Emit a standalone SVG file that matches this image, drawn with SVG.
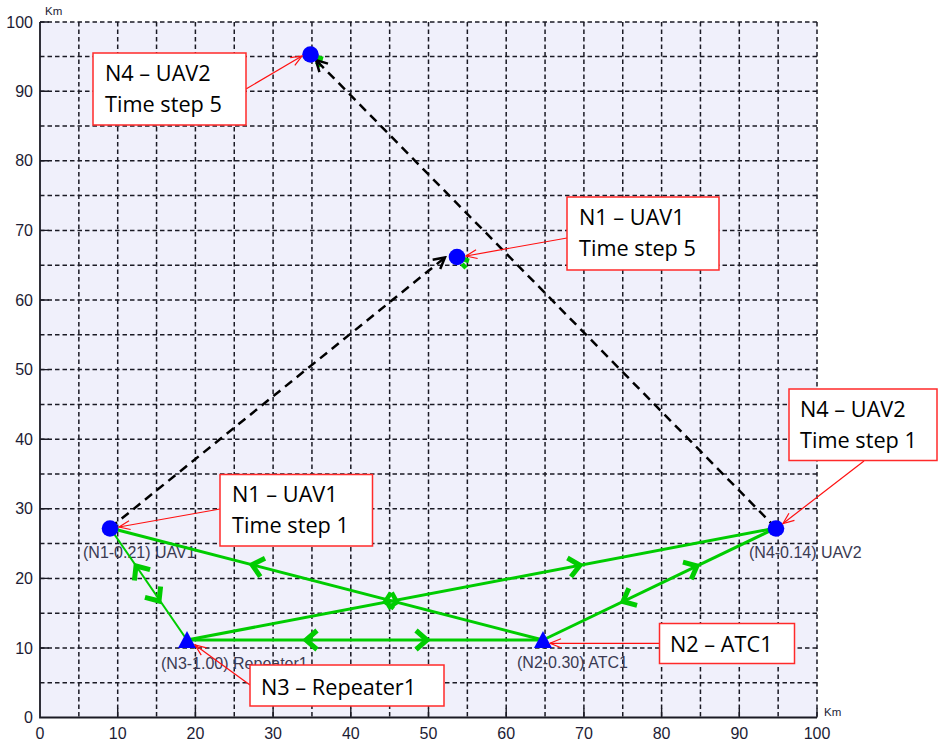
<svg xmlns="http://www.w3.org/2000/svg" xmlns:xlink="http://www.w3.org/1999/xlink" width="939" height="744" viewBox="0 0 939 744">
  <style>
    .grid { stroke: #1a1a24; stroke-width: 1.5; stroke-dasharray: 4.5 3; fill: none; }
    .axis { stroke: #1a1a24; stroke-width: 1.8; fill: none; }
    .tick { stroke: #1a1a24; stroke-width: 1.4; fill: none; }
    .tl { font-family: "Liberation Sans", Arial, sans-serif; font-size: 16px; fill: #1c1c34; }
    .km { font-family: "Liberation Sans", Arial, sans-serif; font-size: 11.5px; fill: #1c1c34; }
    .nl { font-family: "Liberation Sans", Arial, sans-serif; font-size: 16px; fill: #3a3a52; }
    .link { stroke: #00cc00; stroke-width: 3; fill: none; }
    .link-thin { stroke: #00cc00; stroke-width: 2; fill: none; }
    .gh { stroke: #00cc00; stroke-width: 5; fill: none; stroke-linejoin: miter; }
    .ghs { stroke: #00cc00; stroke-width: 4.5; fill: none; }
    .move { stroke: #000; stroke-width: 2.5; stroke-dasharray: 9 6; fill: none; }
    .node { fill: #0000ff; }
    .box { fill: #fff; stroke: #ff2a2a; stroke-width: 1.5; }
    .bt { font-family: "Open Sans", "Liberation Sans", sans-serif; font-size: 21.7px; fill: #000; }
    .call { stroke: #ff1010; stroke-width: 1.2; fill: none; }
  </style>
  <defs>
    <path id="ah" d="M-11,-9.5 L0,0 L-11,9.5" class="gh"/>
    <path id="ahs" d="M-7.5,-8 L0,0 L-7.5,8" class="ghs"/>
    <marker id="blk" viewBox="-14 -9 16 18" refX="0" refY="0" markerWidth="16" markerHeight="18" markerUnits="userSpaceOnUse" orient="auto">
      <path d="M-11,-6 L0,0 L-11,6" fill="none" stroke="#000" stroke-width="2.5"/>
    </marker>
    <marker id="red" viewBox="-13 -6 15 12" refX="0" refY="0" markerWidth="15" markerHeight="12" markerUnits="userSpaceOnUse" orient="auto">
      <path d="M-11,-4.5 L0,0 L-11,4.5" fill="none" stroke="#ff1010" stroke-width="1.2"/>
    </marker>
  </defs>

  <rect x="0" y="0" width="939" height="744" fill="#ffffff"/>

  <!-- plot area -->
  <g id="plot">
    <rect x="40" y="22" width="777" height="695.5" fill="#f0f0fb"/>
    <!-- dashed grid every 5 km -->
    <path class="grid" d="M78.85,22V717.5 M117.7,22V717.5 M156.55,22V717.5 M195.4,22V717.5 M234.25,22V717.5 M273.1,22V717.5 M311.95,22V717.5 M350.8,22V717.5 M389.65,22V717.5 M428.5,22V717.5 M467.35,22V717.5 M506.2,22V717.5 M545.05,22V717.5 M583.9,22V717.5 M622.75,22V717.5 M661.6,22V717.5 M700.45,22V717.5 M739.3,22V717.5 M778.15,22V717.5 M817,22V717.5"/>
    <path class="grid" d="M40,682.7H817 M40,648H817 M40,613.2H817 M40,578.4H817 M40,543.6H817 M40,508.8H817 M40,474H817 M40,439.2H817 M40,404.4H817 M40,369.6H817 M40,334.8H817 M40,300H817 M40,265.2H817 M40,230.4H817 M40,195.6H817 M40,160.8H817 M40,126H817 M40,91.2H817 M40,56.4H817 M40,22H817"/>
    <!-- solid axes -->
    <path class="axis" d="M40,22V717.5H817"/>
    <!-- ticks every 10 km -->
    <path class="tick" d="M117.7,717.5v-9 M195.4,717.5v-9 M273.1,717.5v-9 M350.8,717.5v-9 M428.5,717.5v-9 M506.2,717.5v-9 M583.9,717.5v-9 M661.6,717.5v-9 M739.3,717.5v-9 M817,717.5v-9"/>
    <path class="tick" d="M40,648h9 M40,578.4h9 M40,508.8h9 M40,439.2h9 M40,369.6h9 M40,300h9 M40,230.4h9 M40,160.8h9 M40,91.2h9 M40,22h9"/>
    <!-- y tick labels -->
    <g class="tl" text-anchor="end">
      <text x="33" y="723">0</text>
      <text x="33" y="653.5">10</text>
      <text x="33" y="583.9">20</text>
      <text x="33" y="514.3">30</text>
      <text x="33" y="444.7">40</text>
      <text x="33" y="375.1">50</text>
      <text x="33" y="305.5">60</text>
      <text x="33" y="235.9">70</text>
      <text x="33" y="166.3">80</text>
      <text x="33" y="96.7">90</text>
      <text x="33" y="27.5">100</text>
    </g>
    <!-- x tick labels -->
    <g class="tl" text-anchor="middle">
      <text x="40" y="739">0</text>
      <text x="117.7" y="739">10</text>
      <text x="195.4" y="739">20</text>
      <text x="273.1" y="739">30</text>
      <text x="350.8" y="739">40</text>
      <text x="428.5" y="739">50</text>
      <text x="506.2" y="739">60</text>
      <text x="583.9" y="739">70</text>
      <text x="661.6" y="739">80</text>
      <text x="739.3" y="739">90</text>
      <text x="817" y="739">100</text>
    </g>
    <text class="km" x="45" y="15">Km</text>
    <text class="km" x="824" y="716">Km</text>
  </g>

  <!-- node captions -->
  <g id="captions">
    <text class="nl" x="83" y="558">(N1-0.21) UAV1</text>
    <text class="nl" x="161" y="669">(N3-1.00) Repeater1</text>
    <text class="nl" x="517" y="668">(N2-0.30) ATC1</text>
    <text class="nl" x="749" y="558">(N4-0.14) UAV2</text>
  </g>

  <!-- links and movement paths -->
  <g id="connectors">
    <line class="link-thin" x1="110" y1="528" x2="187" y2="640"/>
    <line class="link" x1="110" y1="528" x2="543" y2="640"/>
    <line class="link" x1="187" y1="640" x2="776" y2="528"/>
    <line class="link" x1="187" y1="640" x2="543" y2="640"/>
    <line class="link" x1="543" y1="640" x2="776" y2="528"/>

    <use xlink:href="#ah" transform="translate(136,566) rotate(235.5)"/>
    <use xlink:href="#ah" transform="translate(159,601) rotate(55.5)"/>
    <use xlink:href="#ah" transform="translate(252,564.7) rotate(194.5)"/>
    <use xlink:href="#ah" transform="translate(580,565.3) rotate(-10.8)"/>
    <use xlink:href="#ah" transform="translate(306,640) rotate(180)"/>
    <use xlink:href="#ah" transform="translate(427,640) rotate(0)"/>
    <use xlink:href="#ah" transform="translate(697,566) rotate(-25.7)"/>
    <use xlink:href="#ah" transform="translate(623,601.5) rotate(154.3)"/>
    <use xlink:href="#ahs" transform="translate(397,602.3) rotate(14.5)"/>
    <use xlink:href="#ahs" transform="translate(385,602) rotate(169.2)"/>

    <!-- small link stubs at time step 5 -->
    <path class="ghs" d="M316,57 L323,59 M317,62 L320,67" stroke-width="2.5"/>
    <path class="ghs" d="M463,259 L469,261 M462,264 L466,268" stroke-width="2.5"/>

    <!-- movement from time step 1 to time step 5 -->
    <line class="move" x1="110" y1="528" x2="445" y2="257.5" marker-end="url(#blk)"/>
    <line class="move" x1="776" y1="528" x2="316" y2="60" marker-end="url(#blk)"/>
  </g>

  <!-- nodes -->
  <g id="N1-UAV1-t1"><circle class="node" cx="110" cy="528.5" r="8.3"/></g>
  <g id="N1-UAV1-t5"><circle class="node" cx="457" cy="257" r="8.3"/></g>
  <g id="N4-UAV2-t1"><circle class="node" cx="776" cy="528.5" r="8.3"/></g>
  <g id="N4-UAV2-t5"><circle class="node" cx="310.5" cy="54.5" r="8.3"/></g>
  <g id="N3-Repeater1"><polygon class="node" points="187,631 178,648 196,648"/></g>
  <g id="N2-ATC1"><polygon class="node" points="543,631 534,648 552,648"/></g>

  <!-- callouts -->
  <g id="callout-N4-t5">
    <line class="call" x1="246" y1="89" x2="302" y2="56" marker-end="url(#red)"/>
    <rect class="box" x="93" y="53" width="153" height="72"/>
    <text class="bt" x="105" y="81">N4 – UAV2</text>
    <text class="bt" x="105" y="112">Time step 5</text>
  </g>
  <g id="callout-N1-t5">
    <line class="call" x1="567" y1="238" x2="466" y2="256" marker-end="url(#red)"/>
    <rect class="box" x="567" y="197" width="152" height="73"/>
    <text class="bt" x="579" y="225">N1 – UAV1</text>
    <text class="bt" x="579" y="256">Time step 5</text>
  </g>
  <g id="callout-N4-t1">
    <line class="call" x1="864" y1="461" x2="783" y2="523.5" marker-end="url(#red)"/>
    <rect class="box" x="789" y="389" width="148" height="71.5"/>
    <text class="bt" x="800" y="417">N4 – UAV2</text>
    <text class="bt" x="800" y="448">Time step 1</text>
  </g>
  <g id="callout-N1-t1">
    <line class="call" x1="220" y1="509" x2="119" y2="527" marker-end="url(#red)"/>
    <rect class="box" x="220" y="474.5" width="152.5" height="71.5"/>
    <text class="bt" x="232" y="502">N1 – UAV1</text>
    <text class="bt" x="232" y="533">Time step 1</text>
  </g>
  <g id="callout-N2">
    <line class="call" x1="659" y1="643.3" x2="550" y2="643.3" marker-end="url(#red)"/>
    <rect class="box" x="659.5" y="623.5" width="135" height="40"/>
    <text class="bt" x="670" y="651.5">N2 – ATC1</text>
  </g>
  <g id="callout-N3">
    <line class="call" x1="250" y1="685" x2="195" y2="645" marker-end="url(#red)"/>
    <rect class="box" x="250" y="665" width="194" height="41"/>
    <text class="bt" x="261" y="695">N3 – Repeater1</text>
  </g>
</svg>
